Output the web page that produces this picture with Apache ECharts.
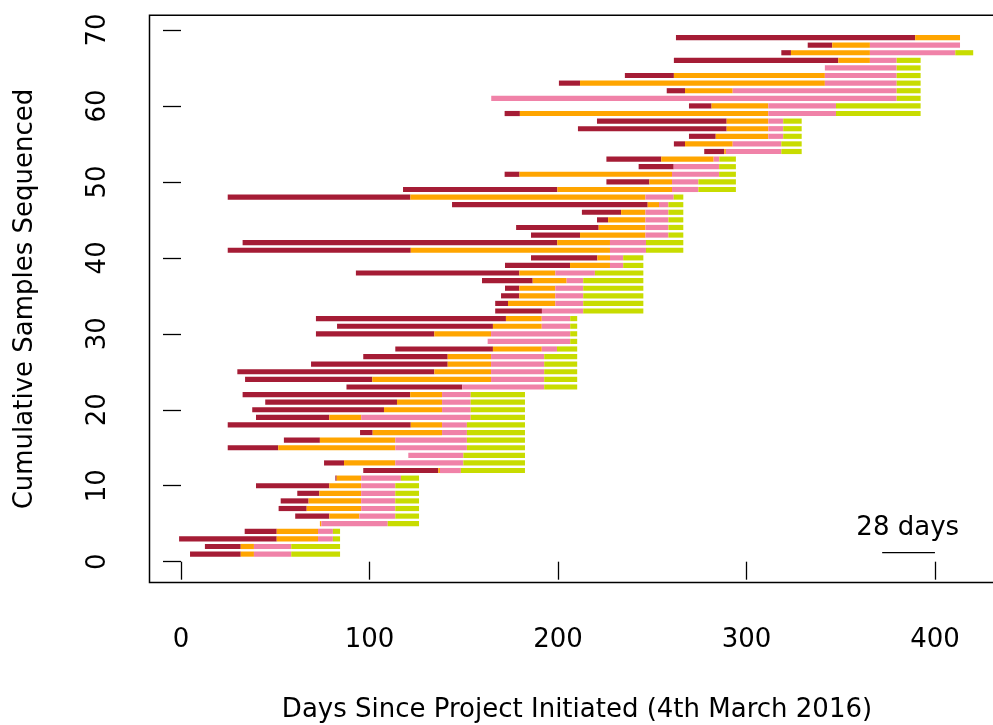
<!DOCTYPE html>
<html>
<head>
<meta charset="utf-8">
<script src="https://cdn.jsdelivr.net/npm/echarts@6.0.0/dist/echarts.min.js"></script>
<style>
html,body{margin:0;padding:0;background:#fff;}
#chart{width:993px;height:725px;}
</style>
</head>
<body>
<div id="chart"></div>
<script>
// ---- data (days since project initiated) ----
const sampleIndex = [1,2,3,4,5,6,7,8,9,10,11,12,13,14,15,16,17,18,19,20,21,22,23,24,25,26,27,28,29,30,31,32,33,34,35,36,37,38,39,40,41,42,43,44,45,46,47,48,49,50,51,52,53,54,55,56,57,58,59,60,61,62,63,64,65,66,67,68,69];
const startDay = [4.8,12.7,-1,33.8,73.7,60.6,51.8,52.9,61.7,39.8,81.9,96.7,75.9,120.6,24.8,54.6,95,24.8,39.8,37.8,44.7,32.7,87.8,34,29.9,69,96.7,113.7,162.7,71.6,82.8,71.6,166.7,166.7,169.8,171.9,159.7,92.8,171.9,185.7,24.8,32.7,185.7,177.8,220.7,212.7,143.8,24.8,117.8,225.7,171.7,242.8,225.7,277.6,261.5,269.5,210.6,220.7,171.7,269.5,164.6,257.7,200.5,235.5,341.6,261.5,318.5,332.5,262.6];
const redEnd = [31.7,31.7,50.8,50.8,73.7,78.7,66.7,67.7,73.4,78.7,82.6,136.5,86.5,120.6,51.6,73.7,101.7,121.9,78.7,107.7,114.6,121.6,149.2,101.5,134.4,141.5,141.5,165.5,162.7,134.4,165.5,172.4,191.5,173.5,179.5,179.5,186.6,179.5,206.4,220.9,121.9,199.6,211.7,221.6,226.6,233.5,247.6,121.7,199.7,248.5,179.6,261.4,254.8,288.2,267.4,283.7,289.5,289.5,179.8,281.5,164.6,267.4,211.7,261.5,341.6,348.7,323.6,345.5,389.5];
const orangeEnd = [38.7,38.7,72.7,72.7,74.5,94.6,95.6,95.6,95.6,95.6,95.6,137.4,113.7,120.6,113.7,113.7,138.5,138.5,95.6,138.5,138.5,138.5,149.2,164.5,164.5,164.5,164.5,191.4,162.7,164.5,191.4,191.4,191.5,198.6,198.6,198.6,204.6,198.6,227.6,227.6,227.6,227.6,246.4,246.4,246.4,246.4,253.6,246.4,260.5,260.5,260.5,261.4,282.6,289.1,292.7,311.6,311.6,311.6,311.6,311.6,164.6,292.7,341.6,341.6,341.6,365.5,365.5,365.5,413.3];
const pinkEnd = [58.5,58.5,80.6,80.6,109.7,113.7,113.7,113.7,113.7,113.7,116.7,148.5,149.8,149.8,151.7,151.7,151.7,151.7,153.7,153.7,153.7,153.7,192.7,192.7,192.7,192.7,192.7,199.5,206.5,206.5,206.5,206.5,213.4,213.4,213.4,213.4,213.4,219.6,234.6,234.6,246.7,246.7,258.6,258.6,258.6,258.6,258.6,261.4,274.5,274.5,285.5,285.5,285.6,318.5,318.5,319.5,319.5,319.5,347.5,347.5,379.7,379.7,379.7,379.7,379.7,379.7,410.8,413.3,413.3];
const greenEnd = [84.4,84.4,84.4,84.4,126.3,126.3,126.3,126.3,126.3,126.3,126.3,182.5,182.5,182.5,182.5,182.5,182.5,182.5,182.5,182.5,182.5,182.5,210.2,210.2,210.2,210.2,210.2,210.2,210.2,210.2,210.2,210.2,245.3,245.3,245.3,245.3,245.3,245.3,245.3,245.3,266.5,266.5,266.5,266.5,266.5,266.5,266.5,266.5,294.4,294.4,294.4,294.4,294.4,329.3,329.3,329.3,329.3,329.3,392.4,392.4,392.4,392.4,392.4,392.4,392.4,392.4,420.3,413.3,413.3];

const xTicks = [0,100,200,300,400];
const yTicks = [0,10,20,30,40,50,60,70];
const scaleBarStart = 372;
const scaleBarDays = 28;
const scaleBarY = 1.2;

const FONT = "'DejaVu Sans', 'Liberation Sans', Arial, sans-serif";
const BAR_H = 0.68;

function segSeries(name, color, fromArr, toArr) {
  const data = [];
  for (let i = 0; i < sampleIndex.length; i++) {
    if (toArr[i] > fromArr[i]) data.push([fromArr[i], toArr[i], sampleIndex[i]]);
  }
  return {
    type: 'custom', name: name, silent: true, animation: false,
    encode: { x: [0, 1], y: 2 },
    data: data,
    renderItem: function (params, api) {
      const s = api.coord([api.value(0), api.value(2)]);
      const e = api.coord([api.value(1), api.value(2)]);
      const h = api.size([0, BAR_H])[1];
      return { type: 'rect', shape: { x: s[0], y: s[1] - h / 2, width: e[0] - s[0], height: h }, style: { fill: color } };
    }
  };
}

const chart = echarts.init(document.getElementById('chart'), null, { renderer: 'canvas' });
chart.setOption({
  backgroundColor: '#ffffff',
  animation: false,
  grid: { left: 149.5, right: -11.5, top: 15.3, bottom: 142.5, show: true, borderColor: '#000', borderWidth: 1.5, backgroundColor: 'transparent', outerBoundsMode: 'none', containLabel: false },
  xAxis: {
    type: 'value', min: -16.7, max: 436.9,
    axisLine: { show: false },
    splitLine: { show: false },
    axisTick: { show: true, inside: false, length: 18, customValues: xTicks, lineStyle: { color: '#000', width: 1.3 } },
    axisLabel: { customValues: xTicks, margin: 45, fontSize: 26, fontFamily: FONT, color: '#000' }
  },
  yAxis: {
    type: 'value', min: -2.74, max: 71.93,
    axisLine: { show: false },
    splitLine: { show: false },
    axisTick: { show: true, inside: false, length: 18, customValues: yTicks, lineStyle: { color: '#000', width: 1.3 } },
    axisLabel: { customValues: yTicks, rotate: 90, margin: 38, fontSize: 26, fontFamily: FONT, color: '#000' }
  },
  series: [
    segSeries('Received', '#A51C35', startDay, redEnd),
    segSeries('Prepared', '#FFA500', redEnd, orangeEnd),
    segSeries('Queued', '#F082A8', orangeEnd, pinkEnd),
    segSeries('Sequenced', '#C8DC00', pinkEnd, greenEnd),
    {
      type: 'line', silent: true, animation: false, symbol: 'none',
      data: [[scaleBarStart, scaleBarY], [scaleBarStart + scaleBarDays, scaleBarY]],
      lineStyle: { color: '#000', width: 1.3 }
    }
  ],
  graphic: [
    { type: 'text', x: 577, y: 710, style: { text: 'Days Since Project Initiated (4th March 2016)', font: '26px ' + FONT, fill: '#000', textAlign: 'center', textVerticalAlign: 'middle' } },
    { type: 'text', x: 25, y: 299, rotation: Math.PI / 2, style: { text: 'Cumulative Samples Sequenced', font: '26px ' + FONT, fill: '#000', textAlign: 'center', textVerticalAlign: 'middle' } },
    { type: 'text', x: 907.7, y: 528, style: { text: '28 days', font: '26px ' + FONT, fill: '#000', textAlign: 'center', textVerticalAlign: 'middle' } }
  ]
});
</script>
</body>
</html>
